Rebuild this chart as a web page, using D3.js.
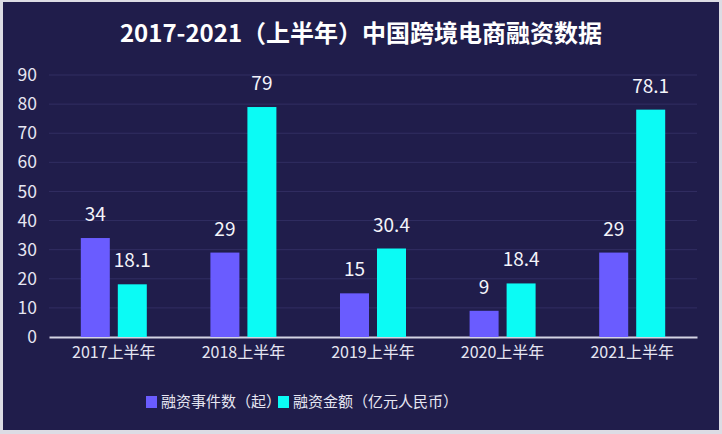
<!DOCTYPE html>
<html><head><meta charset="utf-8">
<script src="https://cdn.jsdelivr.net/npm/d3@7"></script>
<style>
html,body{margin:0;padding:0;background:#dcdce4;}
svg{display:block;}
text{font-family:"Noto Sans CJK SC","Noto Sans",sans-serif;}
</style></head><body>
<svg id="chart" width="722" height="434"></svg>
<script>
const title = "2017-2021（上半年）中国跨境电商融资数据";
const categories = ["2017上半年","2018上半年","2019上半年","2020上半年","2021上半年"];
const seriesNames = ["融资事件数（起）","融资金额（亿元人民币）"];
const eventCounts = [34, 29, 15, 9, 29];
const amounts = [18.1, 79, 30.4, 18.4, 78.1];
const yTicks = [0,10,20,30,40,50,60,70,80,90];
const colors = ["#6a5cff","#0bfbf5"];

const svg = d3.select("#chart");
svg.append("rect").attr("x",3).attr("y",2).attr("width",716).attr("height",428).attr("fill","#201d4b");

const m = {left:49, right:697, top:75, bottom:337};
const x = d3.scaleBand().domain(categories).range([m.left, m.right]);
const y = d3.scaleLinear().domain([0,90]).range([m.bottom, m.top]);

svg.append("text").attr("x",361).attr("y",42).attr("text-anchor","middle")
  .attr("fill","#ffffff").attr("font-size",24).attr("font-weight","bold").text(title);

// gridlines
svg.append("g").selectAll("line").data(yTicks.filter(d=>d>0)).join("line")
  .attr("x1",m.left).attr("x2",m.right).attr("y1",d=>y(d)).attr("y2",d=>y(d))
  .attr("stroke","#312e62").attr("stroke-width",1);

// y axis labels
const yAxis = d3.axisLeft(y).tickValues(yTicks).tickSize(0).tickPadding(0);
const gy = svg.append("g").attr("transform",`translate(37,0)`).call(yAxis);
gy.select(".domain").remove();
gy.selectAll("text").attr("fill","#e6e6f2").attr("font-size",17.5).attr("font-family","'Noto Sans CJK SC',sans-serif");

// x axis
const xAxis = d3.axisBottom(x).tickSize(0).tickPadding(10);
const gx = svg.append("g").attr("transform",`translate(0,${m.bottom})`).call(xAxis);
gx.select(".domain").attr("stroke","#d4d4e4").attr("stroke-width",2);
gx.selectAll("text").attr("fill","#e6e6f2").attr("font-size",16).attr("font-family","'Noto Sans CJK SC',sans-serif");

const barW = 29, gap = 4;
const series = [eventCounts, amounts];
series.forEach((vals,si)=>{
  const off = si===0 ? -gap-barW : gap;
  svg.append("g").selectAll("rect").data(vals).join("rect")
    .attr("x",(d,i)=>x.bandwidth()/2 + x(categories[i]) + off)
    .attr("y",d=>y(d)).attr("width",barW).attr("height",d=>m.bottom-y(d))
    .attr("fill",colors[si]);
  svg.append("g").selectAll("text").data(vals).join("text")
    .attr("x",(d,i)=>x(categories[i]) + x.bandwidth()/2 + off + barW/2)
    .attr("y",d=>y(d)-17).attr("text-anchor","middle")
    .attr("fill","#f4f4fa").attr("font-size",19).text(d=>d);
});

// legend
const leg = svg.append("g");
const legItems = [{x:146, tx:161},{x:278, tx:293}];
seriesNames.forEach((n,i)=>{
  leg.append("rect").attr("x",legItems[i].x).attr("y",396).attr("width",11).attr("height",12).attr("fill",colors[i]);
  leg.append("text").attr("x",legItems[i].tx).attr("y",402).attr("dy","0.35em")
    .attr("fill","#e6e6f2").attr("font-size",15).text(n);
});
</script></body></html>
